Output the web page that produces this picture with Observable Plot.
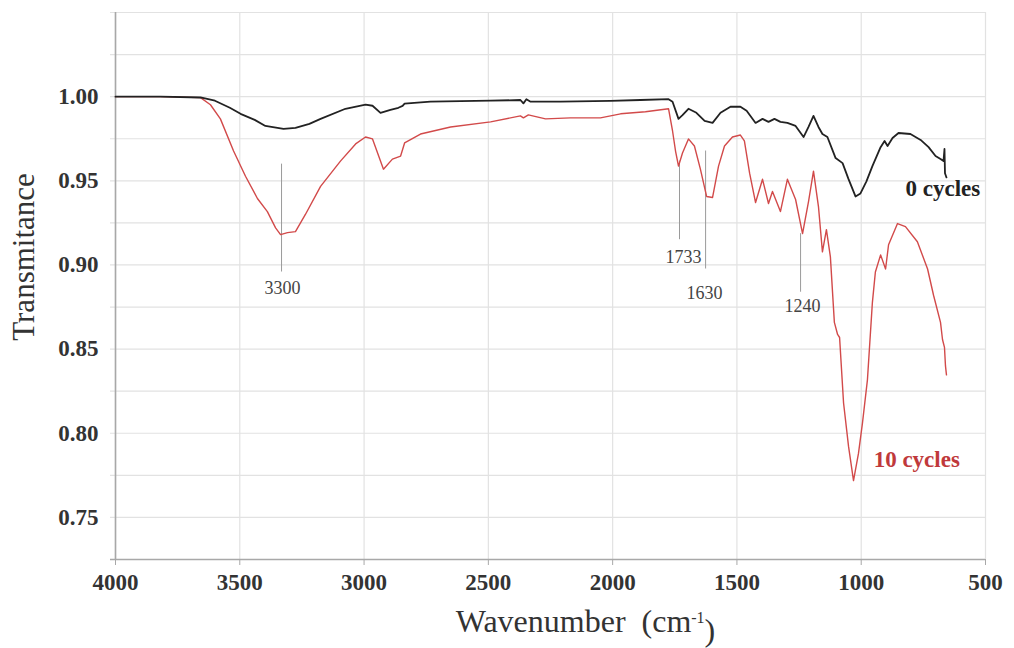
<!DOCTYPE html>
<html><head><meta charset="utf-8">
<script src="https://cdn.jsdelivr.net/npm/d3@7"></script>
<script src="https://cdn.jsdelivr.net/npm/@observablehq/plot@0.6"></script>
<style>body{margin:0;background:#fff}</style>
</head><body><div id="chart"></div>
<script>
// ---- Data ----
const wn0 = [4000,3820,3658,3600,3540,3497,3440,3397,3324,3276,3220,3175,3075,2994,2966,2934,2894,2862,2845,2837,2733,2491,2371,2359,2347,2330,2290,2210,2009,1888,1775,1759,1735,1719,1695,1663,1630,1598,1566,1526,1486,1461,1425,1397,1373,1349,1325,1297,1264,1232,1212,1192,1172,1156,1136,1103,1075,1051,1023,1003,979,955,922,906,894,874,850,802,761,729,701,681,669,665,663,657];
const t0 = [1.000,1.000,0.9995,0.9976,0.9934,0.9898,0.9862,0.9826,0.9808,0.9814,0.9838,0.9868,0.9928,0.9952,0.9946,0.9904,0.9922,0.9934,0.9945,0.9958,0.997,0.9976,0.998,0.996,0.9985,0.997,0.997,0.997,0.9975,0.998,0.9985,0.997,0.9868,0.989,0.9928,0.9904,0.9856,0.9844,0.9904,0.994,0.994,0.9916,0.9844,0.9868,0.985,0.9868,0.985,0.9844,0.9826,0.976,0.982,0.9886,0.982,0.9778,0.976,0.9635,0.9605,0.951,0.9407,0.9425,0.9497,0.9587,0.970,0.9737,0.9707,0.9754,0.9784,0.9778,0.9743,0.970,0.9647,0.9629,0.9617,0.9689,0.9545,0.952];

const wn10 = [4000,3820,3658,3618,3578,3525,3477,3429,3389,3356,3336,3308,3276,3236,3175,3095,3034,2994,2966,2922,2886,2853,2837,2773,2652,2491,2371,2359,2339,2270,2170,2049,1968,1868,1775,1759,1747,1735,1719,1695,1671,1647,1622,1598,1574,1550,1518,1486,1470,1449,1425,1397,1373,1357,1325,1297,1264,1236,1212,1192,1172,1156,1140,1124,1108,1095,1087,1071,1051,1031,1011,995,975,955,943,922,902,890,854,822,774,733,709,681,673,665,661,657];
const t10 = [1.000,1.000,0.9994,0.9952,0.9868,0.9677,0.9527,0.9395,0.9317,0.922,0.918,0.9192,0.9198,0.930,0.9467,0.9617,0.9719,0.976,0.9749,0.9569,0.9629,0.9647,0.9725,0.9778,0.982,0.985,0.9886,0.9874,0.9892,0.9868,0.9874,0.9874,0.9898,0.991,0.9928,0.9796,0.9677,0.9587,0.9665,0.9749,0.9707,0.9569,0.9407,0.9401,0.9587,0.9707,0.976,0.9772,0.9737,0.9545,0.9371,0.9509,0.9365,0.9437,0.9317,0.9509,0.9389,0.9186,0.9377,0.9557,0.9347,0.9078,0.921,0.9048,0.8659,0.8587,0.8569,0.818,0.7922,0.7719,0.788,0.806,0.8317,0.8778,0.8958,0.906,0.8976,0.912,0.9246,0.9228,0.9138,0.8976,0.882,0.8659,0.8557,0.851,0.840,0.8347];

const xTicks = [4000,3500,3000,2500,2000,1500,1000,500];
const yLabels = [0.75,0.80,0.85,0.90,0.95,1.00];
const yGrid = [0.75,0.775,0.80,0.825,0.85,0.875,0.90,0.925,0.95,0.975,1.00,1.025,1.05];

const peakLabels = ["3300","1733","1630","1240"];
const peakX = [3332,1731,1626,1244];
const peakTop = [0.9599,0.9617,0.9677,0.9186];
const peakBottom = [0.8958,0.915,0.8976,0.8838];
const peakLabelX = [3328,1715,1630,1236];
const peakLabelY = [0.8825,0.9010,0.8800,0.8722];

const seriesNames = ["0 cycles","10 cycles"];
const seriesLabelX = [822,950];
const seriesLabelY = [0.9412,0.7797];

// ---- Build tables ----
const d0 = wn0.map((w,i)=>({w, t:t0[i]}));
const d10 = wn10.map((w,i)=>({w, t:t10[i]}));
const peaks = peakLabels.map((l,i)=>({l, x:peakX[i], y1:peakTop[i], y2:peakBottom[i], lx:peakLabelX[i], ly:peakLabelY[i]}));
const legend = seriesNames.map((n,i)=>({n, x:seriesLabelX[i], y:seriesLabelY[i]}));

const serif = "'Liberation Serif','Times New Roman',serif";
const red = "#d24a4a";

const chart = Plot.plot({
  width:1014, height:648,
  marginLeft:115, marginRight:29, marginTop:12, marginBottom:89,
  style:{fontFamily:serif, background:"#fff", overflow:"visible"},
  x:{domain:[4000,500], axis:null},
  y:{domain:[0.725,1.05], axis:null},
  marks:[
    Plot.ruleX(xTicks,{stroke:"#e2e2e2", strokeWidth:1.2}),
    Plot.ruleY(yGrid,{stroke:"#e2e2e2", strokeWidth:1.2, insetLeft:-5}),
    Plot.ruleY([0.725],{stroke:"#a8a8a8", strokeWidth:1.6, insetLeft:-5}),
    Plot.ruleX([4000],{stroke:"#a8a8a8", strokeWidth:1.6}),
    Plot.axisX(xTicks,{tickSize:6, stroke:"#a8a8a8", tickPadding:8, fontSize:23, fontWeight:"bold", fill:"#333", label:null, tickFormat:d=>String(d)}),
    Plot.axisY(yLabels,{tickSize:0, tickPadding:17, fontSize:23, fontWeight:"bold", fill:"#333", label:null, tickFormat:d3.format(".2f")}),
    Plot.ruleX(peaks,{x:"x", y1:"y1", y2:"y2", stroke:"#9a9a9a", strokeWidth:1}),
    Plot.text(peaks,{x:"lx", y:"ly", text:"l", fontSize:18, fill:"#444", textAnchor:"middle", lineAnchor:"bottom", letterSpacing:"2px"}),
    Plot.line(d10,{x:"w", y:"t", stroke:red, strokeWidth:1.4, curve:"linear"}),
    Plot.line(d0,{x:"w", y:"t", stroke:"#222", strokeWidth:1.8, curve:"linear"}),
    Plot.text(legend,{x:"x", y:"y", text:"n", fontSize:23, fontWeight:"bold", textAnchor:"start", lineAnchor:"bottom", fill:(d,i)=> i===0 ? "#222" : "#c0393b"}),
    Plot.text(["Transmitance"],{frameAnchor:"left", rotate:-90, dx:-91, dy:-29, fontSize:31, fill:"#333", textAnchor:"middle", lineAnchor:"middle"}),
    Plot.text(["Wavenumber  (cm-1)"],{frameAnchor:"bottom", dx:35, dy:62, fontSize:32, fill:"#333", textAnchor:"middle", lineAnchor:"middle"})
  ]
});
document.getElementById("chart").appendChild(chart);

// superscript for the x-axis unit
d3.select(chart).selectAll("text").filter(function(){ return this.textContent === "Wavenumber  (cm-1)"; })
  .each(function(){
    const t = d3.select(this);
    t.text(null).attr("xml:space","preserve");
    t.append("tspan").text("Wavenumber  (cm");
    t.append("tspan").attr("dy","-0.55em").attr("font-size","0.5em").text("-1");
    t.append("tspan").attr("dy","0.55em").text(")");
  });
</script>
</body></html>
